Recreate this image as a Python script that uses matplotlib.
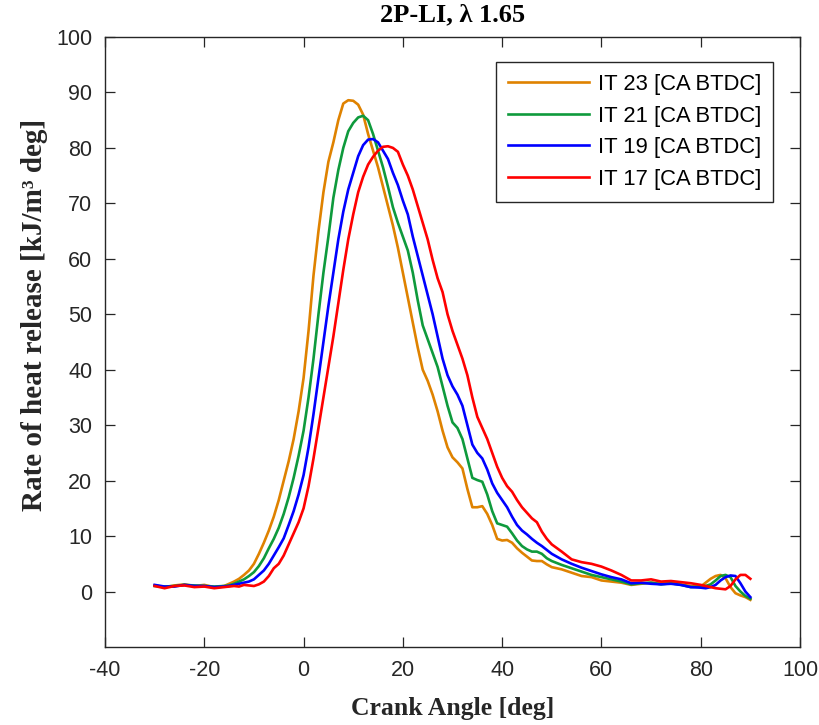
import matplotlib
matplotlib.use("Agg")
import matplotlib.pyplot as plt

plt.rcParams["axes.unicode_minus"] = False

# Crank angle grid [deg]
crank_angle = [-30, -28, -26, -24, -22, -20, -18, -16,
               -15, -14, -13, -12, -11, -10, -9, -8, -7, -6, -5, -4, -3, -2, -1,
               0, 1, 2, 3, 4, 5, 6, 7, 8, 9, 10, 11, 12, 13, 14, 15, 16, 17, 18, 19,
               20, 21, 22, 23, 24, 25, 26, 27, 28, 29, 30, 31, 32, 33, 34, 35, 36, 37,
               38, 39, 40, 41, 42, 43, 44, 45, 46, 47, 48, 49, 50,
               52, 54, 56, 58, 60, 62, 64, 66, 68, 70, 72, 74, 76, 78, 80,
               81, 82, 83, 84, 85, 86, 87, 88, 89, 90]

it23 = [1.1, 0.8, 1.1, 1.3, 1.0, 1.2, 0.8, 1.0,
        1.4, 1.8, 2.3, 3.0, 3.8, 5.0, 6.8, 8.8, 11.0, 13.5, 16.5, 20.0, 23.5, 27.5, 32.5,
        38.5, 47.0, 57.0, 65.0, 72.0, 77.5, 81.0, 85.0, 88.0, 88.6, 88.5, 87.8, 86.0, 82.5, 79.5, 76.5, 73.0, 69.5, 66.0, 62.0,
        57.5, 53.0, 48.5, 44.0, 40.0, 38.0, 35.5, 32.5, 29.0, 26.0, 24.2, 23.3, 22.2, 18.5, 15.2, 15.2, 15.4, 14.0,
        12.0, 9.5, 9.2, 9.3, 8.8, 7.8, 7.0, 6.3, 5.6, 5.5, 5.5, 4.9, 4.4,
        4.0, 3.4, 2.8, 2.6, 2.0, 1.8, 1.6, 1.2, 1.4, 1.6, 1.5, 1.6, 1.3, 1.0, 0.9,
        1.6, 2.3, 2.8, 3.0, 2.4, 0.8, -0.3, -0.7, -1.0, -1.5]

it21 = [1.0, 0.9, 1.0, 1.2, 1.1, 1.0, 0.9, 1.0,
        1.1, 1.4, 1.8, 2.2, 2.8, 3.5, 4.6, 6.0, 7.8, 9.5, 11.5, 14.0, 17.0, 20.5, 24.5,
        29.0, 35.0, 42.0, 50.0, 57.5, 64.0, 71.0, 76.0, 80.0, 83.0, 84.5, 85.5, 85.8, 85.0, 82.5, 79.5, 76.5, 73.0, 69.3, 66.5,
        64.0, 61.5, 57.5, 52.5, 48.0, 45.5, 43.0, 40.5, 37.0, 33.5, 30.5, 29.5, 27.5, 24.0, 20.5, 20.1, 19.8, 17.5,
        14.5, 12.3, 12.0, 11.7, 10.5, 9.2, 8.2, 7.6, 7.2, 7.2, 6.8, 6.0, 5.5,
        4.8, 4.2, 3.6, 3.0, 2.6, 2.2, 1.8, 1.3, 1.5, 1.6, 1.3, 1.5, 1.2, 0.8, 0.9,
        1.0, 1.3, 2.0, 2.8, 3.0, 2.6, 1.0, 0.0, -0.8, -1.3]

it19 = [1.2, 0.9, 0.9, 1.2, 1.0, 1.0, 0.8, 0.9,
        1.0, 1.2, 1.4, 1.6, 1.8, 2.2, 3.0, 3.8, 5.0, 6.5, 8.0, 9.6, 12.0, 14.5, 17.5,
        21.0, 26.0, 32.0, 38.5, 45.0, 51.5, 57.5, 63.5, 68.5, 72.5, 75.5, 78.5, 80.5, 81.5, 81.6, 81.0, 79.5, 78.0, 75.5, 73.3,
        70.5, 68.0, 64.0, 60.5, 57.0, 53.5, 50.0, 46.0, 42.0, 39.0, 37.0, 35.5, 33.5, 30.0, 26.5, 25.0, 24.0, 22.0,
        19.5, 17.8, 16.5, 15.2, 13.5, 12.0, 11.0, 10.3, 9.5, 8.8, 8.2, 7.5, 6.8,
        5.8, 5.0, 4.3, 3.7, 3.1, 2.6, 2.2, 1.5, 1.6, 1.4, 1.3, 1.4, 1.2, 0.8, 0.7,
        0.6, 0.8, 1.2, 2.0, 2.6, 2.9, 2.8, 1.5, 0.0, -1.0]

it17 = [1.0, 0.6, 1.0, 1.1, 0.8, 0.9, 0.6, 0.8,
        0.9, 1.0, 0.9, 1.2, 1.1, 1.0, 1.3, 1.8, 2.8, 4.2, 5.0, 6.5, 8.5, 10.5, 12.5,
        15.0, 19.0, 24.0, 29.5, 35.0, 40.5, 46.0, 52.0, 58.0, 63.5, 68.0, 72.0, 74.8, 77.0, 78.4, 79.5, 80.2, 80.3, 80.0, 79.3,
        77.0, 75.0, 72.5, 69.5, 66.5, 63.5, 59.8, 56.5, 54.0, 50.0, 47.0, 44.5, 42.0, 39.0, 35.0, 31.5, 29.5, 27.5,
        25.0, 22.5, 20.5, 19.0, 18.0, 16.5, 15.2, 14.2, 13.2, 12.5, 10.8, 9.5, 8.5,
        7.2, 5.8, 5.3, 5.0, 4.5, 3.8, 3.0, 2.0, 2.0, 2.2, 1.8, 1.9, 1.7, 1.5, 1.2,
        1.0, 0.8, 0.6, 0.5, 0.4, 1.0, 2.2, 3.0, 3.0, 2.3]

series_labels = ["IT 23 [CA BTDC]", "IT 21 [CA BTDC]", "IT 19 [CA BTDC]", "IT 17 [CA BTDC]"]
series_values = [it23, it21, it19, it17]
series_colors = ["#DF8200", "#0E9A3C", "#0000FF", "#FF0000"]

x_ticks = [-40, -20, 0, 20, 40, 60, 80, 100]
y_ticks = [0, 10, 20, 30, 40, 50, 60, 70, 80, 90, 100]

title_text = "2P-LI, \u03bb 1.65"
x_label = "Crank Angle [deg]"
y_label = "Rate of heat release [kJ/m\u00b3 deg]"

dark = "#262626"
fig = plt.figure(figsize=(8.2, 7.25), dpi=100)
ax = fig.add_axes([105 / 820, 1 - 647 / 725, 695 / 820, 610 / 725])

for vals, lab, col in zip(series_values, series_labels, series_colors):
    ax.plot(crank_angle, vals, color=col, lw=1.9, label=lab)

ax.set_xlim(-40, 100)
ax.set_ylim(-10, 100)
ax.set_xticks(x_ticks)
ax.set_yticks(y_ticks)
ax.tick_params(direction="in", length=7, width=0.9, colors=dark,
               top=True, right=True, labelsize=15.5, pad=9)
for lab in ax.get_xticklabels() + ax.get_yticklabels():
    lab.set_fontfamily("Liberation Sans")
for sp in ax.spines.values():
    sp.set_color(dark)
    sp.set_linewidth(1.0)

fig.text(0.5 * (105 + 800) / 820, 1 - 15 / 725, title_text, ha="center", va="center",
         fontsize=19, fontweight="bold", family="Liberation Serif", color="black")
fig.text(0.5 * (105 + 800) / 820, 1 - 708 / 725, x_label, ha="center", va="center",
         fontsize=18.5, fontweight="bold", family="Liberation Serif", color=dark)
fig.text(35 / 820, 1 - 315 / 725, y_label, ha="center", va="center", rotation=90,
         fontsize=21, fontweight="bold", family="Liberation Serif", color=dark)

leg = ax.legend(loc="upper right", bbox_to_anchor=(773 / 820, 1 - 62 / 725),
                bbox_transform=fig.transFigure, fancybox=False, framealpha=1,
                edgecolor=dark, prop={"family": "Liberation Sans", "size": 15.8},
                handlelength=3.7, labelspacing=0.48, borderpad=0.55, handletextpad=0.4,
                borderaxespad=0)
leg.get_frame().set_linewidth(1.0)

fig.savefig("out.png", dpi=100)
